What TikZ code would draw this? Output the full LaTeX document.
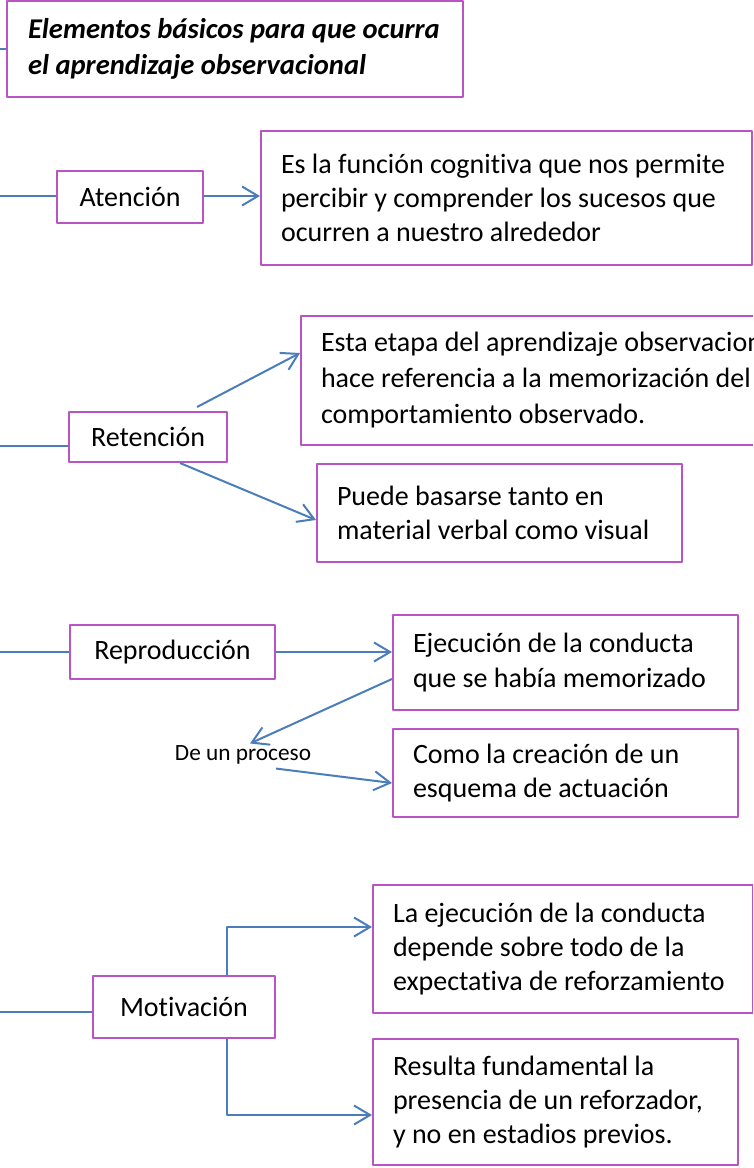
\documentclass[tikz,border=0pt]{standalone}
\usepackage{fontspec}
\setmainfont{Carlito}[Ligatures=NoCommon]
\usetikzlibrary{arrows.meta}

\definecolor{marcomorado}{RGB}{186,84,196}
\definecolor{flechaazul}{RGB}{74,126,187}

\tikzset{
  caja/.style={draw=marcomorado, line width=2pt, inner xsep=20pt, inner ysep=0pt, align=flush left,
    font=\fontsize{28}{34.2}\selectfont},
  etapa/.style={draw=marcomorado, line width=2pt, inner sep=0pt, align=center,
    font=\fontsize{28}{34.2}\selectfont},
  enlace/.style={draw=flechaazul, line width=2pt},
  flecha/.style={enlace, -{Straight Barb[length=16pt,width=19pt]}},
}

\begin{document}
\begin{tikzpicture}[x=1pt, y=-1pt, line join=round]

  % lienzo fijo
  \useasboundingbox (0,0) rectangle (753,1168);
  \clip (0,0) rectangle (753,1168);

  %% ════ título ════
  \node[caja, minimum width=456pt, minimum height=96pt, inner xsep=21pt, text width=414pt,
        font=\fontsize{28.6}{36}\selectfont\bfseries\itshape] (titulo) at (235,49)
        {Elementos básicos para que ocurra\\el aprendizaje observacional};

  %% ════ etapas ════
  \node[etapa, minimum width=146pt, minimum height=52pt] (atencion) at (130,197) {Atención};
  \node[etapa, minimum width=158pt, minimum height=50pt] (retencion) at (148,437) {Retención};
  \node[etapa, minimum width=205pt, minimum height=54pt] (reproduccion) at (172.5,652) {Reproducción};
  \node[etapa, minimum width=182pt, minimum height=62pt] (motivacion) at (184,1007) {Motivación};

  %% ════ descripciones ════
  \node[caja, minimum width=491pt, minimum height=134pt, text width=451pt] (atencion-d) at (506.5,198)
        {Es la función cognitiva que nos permite\\percibir y comprender los sucesos que\\ocurren a nuestro alrededor};
  \node[caja, minimum width=522pt, minimum height=129pt, text width=482pt,
        font=\fontsize{28}{36}\selectfont] (retencion-d1) at (562,380)
        {Esta etapa del aprendizaje observacional\\hace referencia a la memorización del\\comportamiento observado.};
  \node[caja, minimum width=365pt, minimum height=98pt, text width=325pt] (retencion-d2) at (499.5,513)
        {Puede basarse tanto en\\material verbal como visual};
  \node[caja, minimum width=345pt, minimum height=95pt, text width=305pt] (reproduccion-d1) at (565.5,662.5)
        {Ejecución de la conducta\\que se había memorizado};
  \node[caja, minimum width=345pt, minimum height=88pt, text width=305pt] (reproduccion-d2) at (565.5,773)
        {Como la creación de un\\esquema de actuación};
  \node[caja, minimum width=380pt, minimum height=128pt, text width=340pt] (motivacion-d1) at (563,949)
        {La ejecución de la conducta\\depende sobre todo de la\\expectativa de reforzamiento};
  \node[caja, minimum width=365pt, minimum height=126pt, text width=325pt] (motivacion-d2) at (555.5,1102)
        {Resulta fundamental la\\presencia de un reforzador,\\y no en estadios previos.};

  \node[font=\fontsize{23.3}{28}\selectfont, inner sep=0pt] (proceso) at (243,755) {De un proceso};

  %% ════ entradas por la izquierda ════
  \coordinate (in-titulo) at (0,49);
  \coordinate (in-atencion) at (0,196);
  \coordinate (in-retencion) at (0,446);
  \coordinate (in-reproduccion) at (0,652);
  \coordinate (in-motivacion) at (0,1012);

  \draw[enlace] (in-titulo) -- (titulo.west);
  \draw[enlace] (in-atencion) -- (in-atencion -| atencion.west);
  \draw[enlace] (in-retencion) -- (in-retencion -| retencion.west);
  \draw[enlace] (in-reproduccion) -- (in-reproduccion -| reproduccion.west);
  \draw[enlace] (in-motivacion) -- (in-motivacion -| motivacion.west);

  %% ════ flechas ════
  \draw[flecha] (in-atencion -| atencion.east) -- (in-atencion -| atencion-d.west);
  \draw[flecha] ([xshift=49pt,yshift=4pt]retencion.north) -- ([yshift=27pt]retencion-d1.west);
  \draw[flecha] ([xshift=32pt]retencion.south) -- ([yshift=-7pt]retencion-d2.west);
  \draw[flecha] (reproduccion.east) -- (reproduccion.east -| reproduccion-d1.west);
  \draw[flecha] ([yshift=-16.5pt]reproduccion-d1.west) -- ([xshift=7pt,yshift=2pt]proceso.north);
  \draw[flecha] ([xshift=33pt,yshift=-4pt]proceso.south) -- ([yshift=-10pt]reproduccion-d2.west);
  \draw[flecha] ([xshift=43pt]motivacion.north) |- ([yshift=22pt]motivacion-d1.west);
  \draw[flecha] ([xshift=43pt]motivacion.south) |- ([yshift=-13pt]motivacion-d2.west);
\end{tikzpicture}
\end{document}
